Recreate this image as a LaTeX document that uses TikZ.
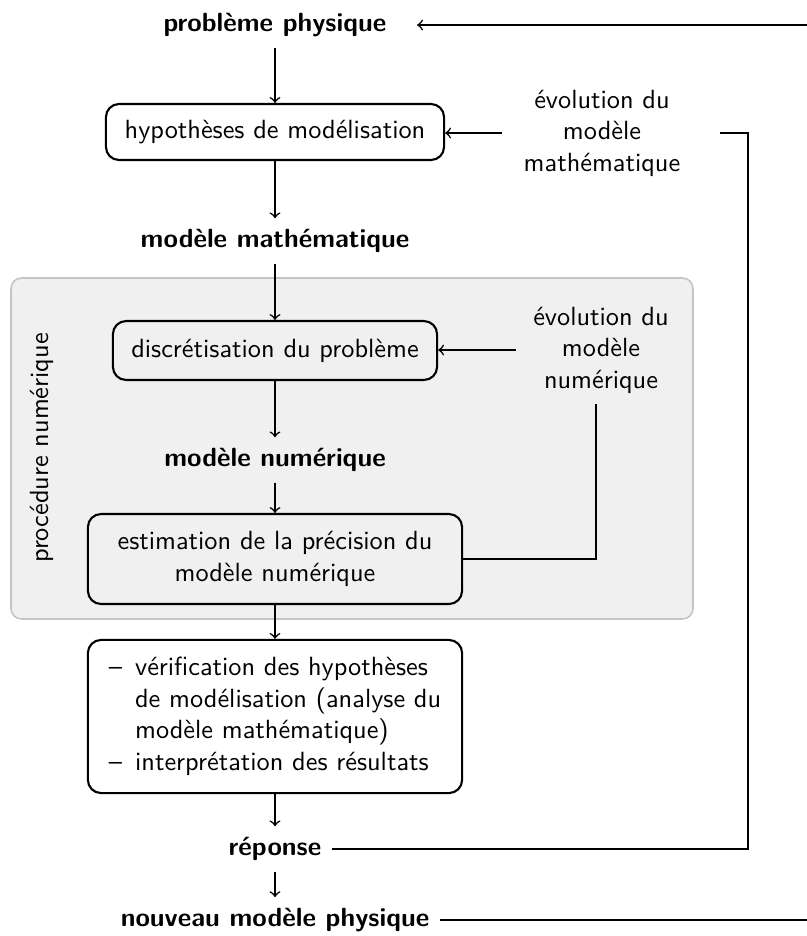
\documentclass[tikz,border=0pt]{standalone}
\usepackage[usenames,dvipsnames]{xcolor}
\renewcommand{\familydefault}{\sfdefault}
\definecolor{fondgris}{HTML}{F0F0F0}
\definecolor{bordgris}{HTML}{C4C4C4}

\begin{document}
\begin{tikzpicture}[x=0.38pt,y=-0.38pt]
   \tikzset{boite/.style = {draw, thick, rounded corners=5pt, align=center, inner sep=3pt},
            titre/.style = {font=\bfseries, inner sep=4pt},
            fleche/.style = {->, semithick},
            lien/.style = {semithick}}
   \useasboundingbox (0,0) rectangle (807,936);
   \filldraw[fill=fondgris, draw=bordgris, semithick, rounded corners=4pt] (11,278) rectangle (693,619);
   \node[titre] (probleme) at (275,25) {problème physique};
   \node[boite, minimum width=128.5pt, minimum height=21.3pt] (hyp) at (275,132) {hypothèses de modélisation};
   \node[titre] (modmath) at (275,241) {modèle mathématique};
   \node[boite, minimum width=123.2pt, minimum height=22.4pt] (discr) at (275,350.5) {discrétisation du problème};
   \node[titre] (modnum) at (275,460) {modèle numérique};
   \node[boite, minimum width=142.2pt, minimum height=34.2pt] (estim) at (275,559) {estimation de la précision du\\modèle numérique};
   \node[boite, minimum width=142.2pt, minimum height=58.2pt] (verif) at (275,716.5)
      {\begin{tabular}{@{}l@{\hspace{5pt}}l@{}}
        --&vérification des hypothèses\\
          &de modélisation (analyse du\\
          &modèle mathématique)\\
        --&interprétation des résultats
       \end{tabular}};
   \node[titre] (reponse) at (275,849) {réponse};
   \node[titre] (nouveau) at (275,920) {nouveau modèle physique};
   \node[align=center, inner sep=4pt] (evolmath) at (602,133) {évolution du\\modèle\\mathématique};
   \node[align=center, inner sep=4pt] (evolnum) at (601,350) {évolution du\\modèle\\numérique};
   \node[rotate=90] (procnum) at (42,448) {procédure numérique};
   \coordinate (bordhaut) at (807,25);
   \coordinate (bordbas) at (807,920);
   \coordinate (coin) at (748,0);
   \draw[fleche] (probleme) -- (hyp);
   \draw[fleche] (hyp) -- (modmath);
   \draw[fleche] (modmath) -- (discr);
   \draw[fleche] (discr) -- (modnum);
   \draw[fleche] (modnum) -- (estim);
   \draw[fleche] (estim) -- (verif);
   \draw[fleche] (verif) -- (reponse);
   \draw[fleche] (reponse) -- (nouveau);
   \draw[fleche] ([xshift=-4pt]evolmath.west) -- (evolmath.west -| hyp.east);
   \draw[fleche] ([xshift=-2.5pt]evolnum.west) -- (evolnum.west -| discr.east);
   \draw[lien] (estim.east) -| ([xshift=-2pt]evolnum.south);
   \draw[lien] ([xshift=11pt]evolmath.east) -| (coin |- reponse.east) -- (reponse.east);
   \draw[lien] (nouveau.east) -- (nouveau.east -| bordbas);
   \draw[fleche] (bordhaut) -- ([xshift=7.5pt]probleme.east);
\end{tikzpicture}
\end{document}
